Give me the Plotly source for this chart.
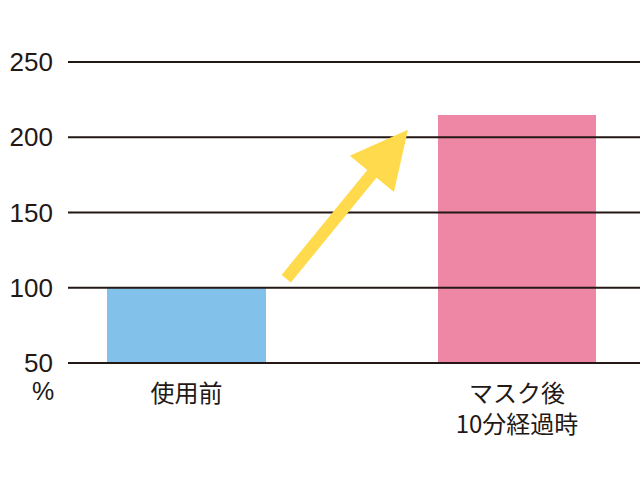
import plotly.graph_objects as go

categories = ["使用前", "マスク後<br>10分経過時"]
values = [100, 215]
bar_colors = ["#82C1E9", "#EE86A6"]
y_ticks = [50, 100, 150, 200, 250]
y_unit = "%"

# arrow from the top of the first bar up towards the second
arrow_tail = (0.298, 105)
arrow_tip = (0.670, 205)

x_pos = list(range(len(categories)))

fig = go.Figure()
fig.add_trace(go.Bar(
    x=x_pos, y=values, width=0.48,
    marker=dict(color=bar_colors, line=dict(width=0)),
    showlegend=False, hoverinfo="skip"))

# grid lines drawn above the bars, as in the print version
for v in y_ticks:
    fig.add_shape(type="line", xref="paper", x0=0, x1=1, yref="y", y0=v, y1=v,
                  line=dict(color="#231815", width=2), layer="above")

fig.add_annotation(
    x=arrow_tip[0], y=arrow_tip[1], ax=arrow_tail[0], ay=arrow_tail[1],
    xref="x", yref="y", axref="x", ayref="y",
    text="", showarrow=True, arrowhead=2, arrowsize=0.95, arrowwidth=12,
    arrowcolor="#FFDA4C", standoff=0)

fig.add_annotation(
    text=y_unit, xref="paper", yref="y", x=0, y=y_ticks[0],
    xanchor="right", yanchor="top", xshift=-12, yshift=-12, showarrow=False,
    font=dict(size=25, color="#231815"))

# a little slack on the y range so the top and bottom lines are not clipped
fig.update_layout(
    width=640, height=482,
    margin=dict(l=68, r=0, t=61, b=118),
    plot_bgcolor="white", paper_bgcolor="white",
    font=dict(family="Liberation Sans, Noto Sans CJK JP", color="#231815"),
    xaxis=dict(range=[-0.3585, 1.372], tickvals=x_pos, ticktext=categories,
               showgrid=False, zeroline=False, showline=False, ticks="",
               tickfont=dict(family="Noto Sans CJK JP, Liberation Sans", size=24),
               ticklabelstandoff=13),
    yaxis=dict(range=[y_ticks[0] - 0.7, y_ticks[-1] + 0.7], tickvals=y_ticks,
               showgrid=False, zeroline=False, showline=False, ticks="",
               tickfont=dict(size=26), ticklabelstandoff=14),
    bargap=0,
)

# drop the page's default 8px body margin so the figure fills the window
fig.write_html("out.html", config={"displayModeBar": False},
               post_script="document.body.style.margin = '0';")
